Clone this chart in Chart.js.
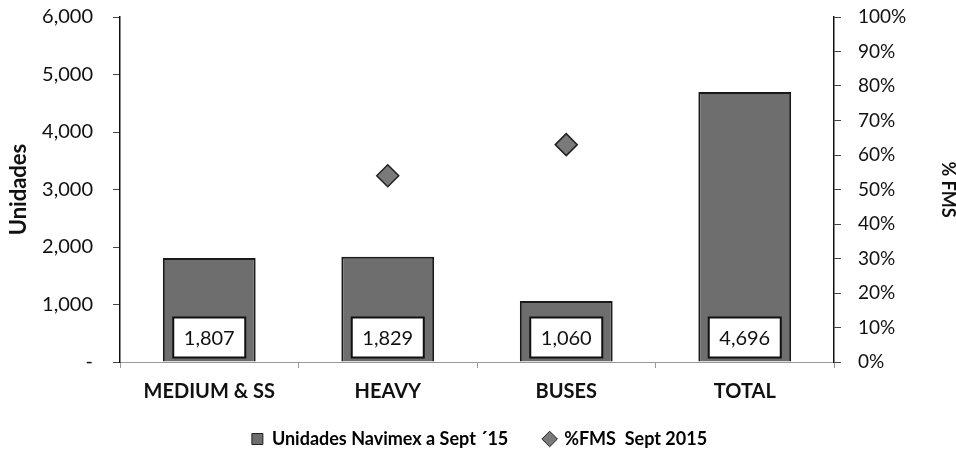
<!DOCTYPE html>
<html>
<head>
<meta charset="utf-8">
<script src="https://cdn.jsdelivr.net/npm/chart.js@4/dist/chart.umd.min.js"></script>
<style>
	html, body { margin: 0; padding: 0; background: #fff; }
	#wrap { width: 956px; height: 457px; }
</style>
</head>
<body>
<div id="wrap"><canvas id="chart-navimex"></canvas></div>
<script>
const CATEGORIES = ["MEDIUM & SS", "HEAVY", "BUSES", "TOTAL"];
const UNITS = [1807, 1829, 1060, 4696];
const FMS = [null, 54, 63, null];

const FONT = "Lato, 'Open Sans', sans-serif";
const BAR_GREY = "#6e6e6e";
const DIAMOND_GREY = "#7a7a7a";

// white boxed value labels near the foot of each bar
const valueBoxes = {
	id: "valueBoxes",
	afterDatasetsDraw(chart) {
		const ctx = chart.ctx;
		const meta = chart.getDatasetMeta(0);
		ctx.save();
		meta.data.forEach((bar, i) => {
			const w = 72, h = 40;
			const x = bar.x - w / 2;
			const y = bar.base - 44;
			ctx.fillStyle = "#fff";
			ctx.fillRect(x, y, w, h);
			ctx.strokeStyle = "#111";
			ctx.lineWidth = 2;
			ctx.strokeRect(x, y, w, h);
			ctx.fillStyle = "#111";
			ctx.font = "20px " + FONT;
			ctx.textAlign = "center";
			ctx.textBaseline = "middle";
			ctx.fillText(UNITS[i].toLocaleString("en-US"), bar.x, y + h / 2 + 1);
		});
		ctx.restore();
	},
};

// fixed side-axis widths, and no extra top gap from tick padding
const fitSide = (width) => (scale) => {
	scale.width = width;
	scale.paddingTop = 0;
};

new Chart(document.getElementById("chart-navimex"), {
	data: {
		labels: CATEGORIES,
		datasets: [
			{
				type: "bar",
				label: "Unidades Navimex a Sept ´15     ",
				data: UNITS,
				yAxisID: "y",
				backgroundColor: BAR_GREY,
				borderColor: "#1a1a1a",
				borderWidth: 2,
				barPercentage: 0.52,
				categoryPercentage: 1,
				order: 1,
			},
			{
				type: "line",
				label: "%FMS  Sept 2015",
				data: FMS,
				yAxisID: "y1",
				showLine: false,
				pointStyle: "rectRot",
				pointRadius: 11,
				backgroundColor: DIAMOND_GREY,
				borderColor: "#222",
				borderWidth: 1.5,
				order: 0,
			},
		],
	},
	options: {
		responsive: true,
		maintainAspectRatio: false,
		animation: false,
		layout: { padding: { top: 17, left: 0, right: -3, bottom: -1 } },
		plugins: {
			legend: {
				position: "bottom",
				labels: {
					usePointStyle: true,
					boxWidth: 11,
					boxHeight: 11,
					padding: 14,
					color: "#111",
					font: { family: FONT, size: 18, weight: "bold" },
					generateLabels(chart) {
						return chart.data.datasets.map((ds, i) => ({
							text: ds.label,
							fillStyle: ds.type === "bar" ? BAR_GREY : DIAMOND_GREY,
							strokeStyle: "#222",
							lineWidth: 1,
							pointStyle: ds.type === "bar" ? "rect" : "rectRot",
							datasetIndex: i,
							hidden: false,
						}));
					},
				},
			},
			tooltip: { enabled: false },
		},
		scales: {
			x: {
				border: { display: true, color: "#999", width: 1, dash: [2, 1] },
				grid: { display: true, drawOnChartArea: false, drawTicks: true, tickLength: 6, offset: true, color: "#999" },
				ticks: { color: "#111", padding: 12, font: { family: FONT, size: 20, weight: "bold" } },
			},
			y: {
				position: "left",
				min: 0,
				max: 6000,
				afterFit: fitSide(120),
				border: { display: true, color: "#111", width: 1.5 },
				grid: { display: true, drawOnChartArea: false, tickLength: 7, color: "#444" },
				ticks: {
					stepSize: 1000,
					padding: 20,
					color: "#111",
					font: { family: FONT, size: 20 },
					callback: (v) => (v === 0 ? "-" : v.toLocaleString("en-US")),
				},
				title: {
					display: true,
					text: "Unidades",
					color: "#111",
					padding: { top: 6, bottom: 0 },
					font: { family: FONT, size: 22, weight: "bold" },
				},
			},
			y1: {
				position: "right",
				min: 0,
				max: 100,
				afterFit: fitSide(125),
				border: { display: true, color: "#111", width: 1.5 },
				grid: { display: true, drawOnChartArea: false, tickLength: 7, color: "#444" },
				ticks: {
					stepSize: 10,
					padding: 17,
					color: "#111",
					font: { family: FONT, size: 19 },
					callback: (v) => v + "%",
				},
				title: {
					display: true,
					text: "% FMS",
					color: "#111",
					padding: { top: 0, bottom: 0 },
					font: { family: FONT, size: 18, weight: "bold" },
				},
			},
		},
	},
	plugins: [valueBoxes],
});
</script>
</body>
</html>
